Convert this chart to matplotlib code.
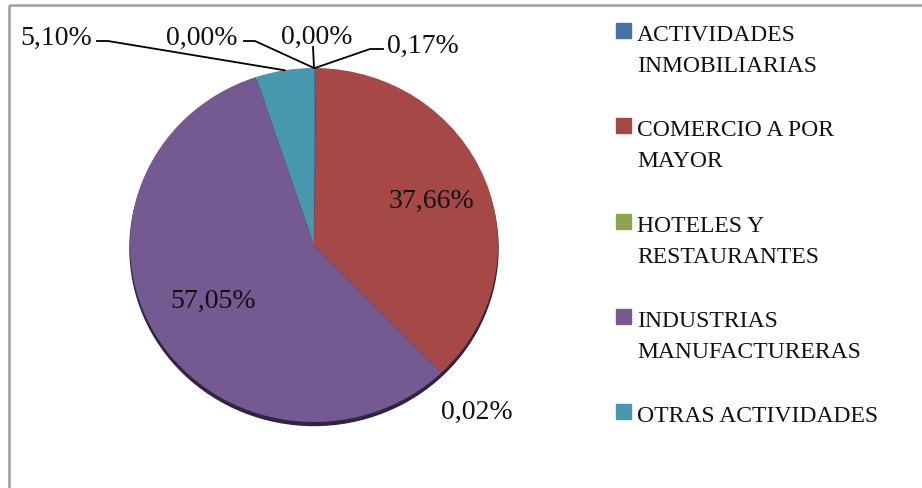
import numpy as np
import matplotlib
matplotlib.use("Agg")
import matplotlib.pyplot as plt
from matplotlib.patches import Ellipse, Rectangle

plt.rcParams["font.family"] = ["Liberation Serif", "DejaVu Serif"]

# slices, clockwise from the top (the last two are empty categories)
values = [0.17, 37.66, 0.02, 57.05, 5.10, 0.00, 0.00]
colors = ["#4672A8", "#A64845", "#8BA64F", "#745A91", "#4797AD", "#4672A8", "#A64845"]

legend_lines = [
    ["ACTIVIDADES", "INMOBILIARIAS"],
    ["COMERCIO A POR", "MAYOR"],
    ["HOTELES Y", "RESTAURANTES"],
    ["INDUSTRIAS", "MANUFACTURERAS"],
    ["OTRAS ACTIVIDADES"],
]
legend_colors = ["#4672A8", "#A64845", "#8BA64F", "#745A91", "#4797AD"]

W, H = 922, 489
cx, cy, rx, ry = 314, 246, 184, 177   # pie centre / radii in pixels

# label anchor (pixels, baseline) and leader line start points
label_pos = [(423, 53), (431, 208), (477, 419), (213, 308), (56, 45), (202, 45), (317, 44)]
leaders = {0: [(383, 50), (370, 50)],
           4: [(97, 42), (108, 42)],
           5: [(244, 42), (255, 42)],
           6: [(313, 48)]}

fig = plt.figure(figsize=(W / 100, H / 100), dpi=100)
fig.patch.set_facecolor("white")

ax = fig.add_axes([0, 0, 1, 1])
wedges, _ = ax.pie(values, colors=colors, startangle=90, counterclock=False,
                   radius=1, wedgeprops=dict(linewidth=0))
ax.add_patch(Ellipse((0, -3.5 / ry), 2.0, 2.0, color="#2f2540", zorder=0))
ax.set_aspect("auto")
ax.set_xlim(-cx / rx, (W - cx) / rx)
ax.set_ylim(-(H - cy) / ry, cy / ry)
ax.axis("off")

ov = fig.add_axes([0, 0, 1, 1], facecolor="none")
ov.set_xlim(0, W)
ov.set_ylim(H, 0)
ov.axis("off")

# outer frame
ov.add_patch(Rectangle((9, 6), W + 20, H + 20, fill=False, edgecolor="#a0a0a0", lw=1.8))

for i, (v, w) in enumerate(zip(values, wedges)):
    txt = f"{v:.2f}".replace(".", ",") + "%"
    x, y = label_pos[i]
    ov.text(x, y, txt, fontsize=20, ha="center", va="baseline", color="#111111")
    if i in leaders:
        ang = np.deg2rad((w.theta1 + w.theta2) / 2)
        edge = (cx + rx * np.cos(ang), cy - ry * np.sin(ang))
        pts = leaders[i] + [edge]
        ov.plot([p[0] for p in pts], [p[1] for p in pts], color="black", lw=1.3)

# legend
for k, (lines, col) in enumerate(zip(legend_lines, legend_colors)):
    base = 41 + k * 95.3
    ov.add_patch(Rectangle((616, base - 17), 15, 15, color=col))
    for j, line in enumerate(lines):
        ov.text(637, base + j * 31, line, fontsize=17, ha="left", va="baseline", color="#111111")

fig.savefig("out.png", dpi=100, facecolor="white")
